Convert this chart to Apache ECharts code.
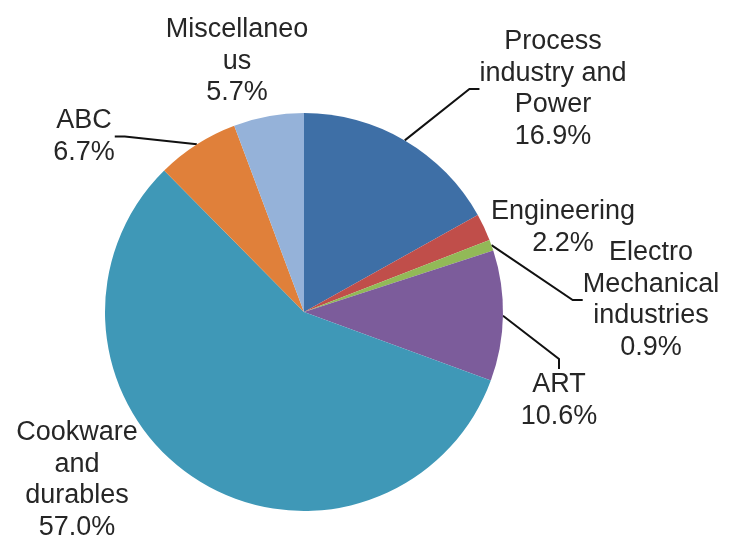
<!DOCTYPE html>
<html>
<head>
<meta charset="utf-8">
<script src="https://cdn.jsdelivr.net/npm/echarts@6/dist/echarts.min.js"></script>
<style>
  html, body { margin: 0; padding: 0; background: #fff; }
  #chart { width: 749px; height: 539px; }
</style>
</head>
<body>
<div id="chart"></div>
<script>
// sectors clockwise from 12 o'clock
const categories = [
  'Process\nindustry and\nPower',
  'Engineering',
  'Electro\nMechanical\nindustries',
  'ART',
  'Cookware\nand\ndurables',
  'ABC',
  'Miscellaneo\nus'
];
const shares = [16.9, 2.2, 0.9, 10.6, 57.0, 6.7, 5.7];
const colors = ['#3E6FA6', '#C04E4A', '#92B957', '#7C5C9B', '#3F98B7', '#E0803A', '#95B2D9'];

// where each label block sits (centre x, top y) and whether it has a leader line
const labelSpots = [
  { x: 553, y: 26, line: true },
  { x: 563, y: 196, line: false },
  { x: 651, y: 237, line: true },
  { x: 559, y: 369, line: true },
  { x: 77, y: 417, line: false },
  { x: 84, y: 105, line: true },
  { x: 237, y: 14, line: false }
];

const chart = echarts.init(document.getElementById('chart'));

const option = {
  animation: false,
  series: [{
    type: 'pie',
    center: [304, 312],
    radius: 199,
    startAngle: 90,
    clockwise: true,
    data: categories.map((name, i) => ({
      name: name,
      value: shares[i],
      itemStyle: { color: colors[i] },
      labelLine: { show: labelSpots[i].line }
    })),
    itemStyle: { borderWidth: 0 },
    label: {
      show: true,
      position: 'outside',
      formatter: p => p.name + '\n' + p.value.toFixed(1) + '%',
      fontFamily: 'Liberation Sans, Arial, sans-serif',
      fontSize: 27,
      lineHeight: 31.5,
      color: '#262626',
      align: 'center'
    },
    labelLine: {
      show: true,
      length: 10,
      length2: 10,
      lineStyle: { color: '#111', width: 2 }
    },
    labelLayout: params => {
      const s = labelSpots[params.dataIndex];
      return { x: s.x, y: s.y, align: 'center', verticalAlign: 'top' };
    }
  }]
};

chart.setOption(option);
</script>
</body>
</html>
